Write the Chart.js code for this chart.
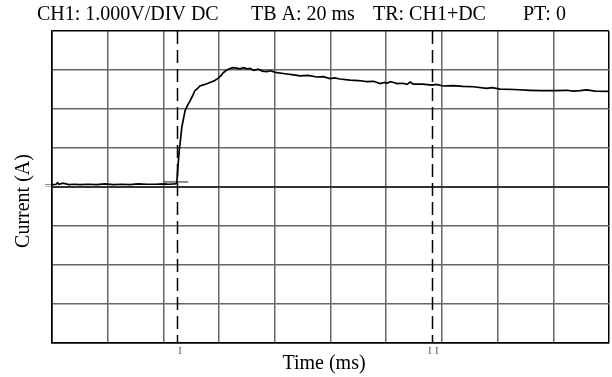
<!DOCTYPE html>
<html>
<head>
  <script src="https://cdn.jsdelivr.net/npm/chart.js"></script>
  <style>
    body { margin: 0; background: #fff; }
    #scope { display: block; }
  </style>
</head>
<body>
  <canvas id="scope" width="612" height="377"></canvas>
  <script>
    // trace (ms / divisions)
    const timeMs = [0, 1.5, 2, 2.5, 4, 6, 8, 10, 13, 16, 19, 22, 25, 28, 31, 34, 37, 40, 42, 44,
      44.8, 45.2, 45.7, 46.2, 46.6, 47.2, 47.8, 48.7, 49.6, 50.5,
      51.3, 52.2, 53.1, 54.9, 56.7, 58.2, 59.7, 60.6, 61.5, 62.4,
      63.3, 64.8, 66.3, 67.5, 68.7, 70, 71.1, 72.5, 74.1, 75.5, 77.1, 78.6, 80.1, 83.1, 86.1,
      89.1, 92, 95, 97.4, 99.8, 101.5, 103.4, 107, 110, 113, 115.5,
      117.8, 119.5, 120.2, 121.5, 122.6, 124, 126, 127.5, 128.6, 129.7, 133, 136.5, 138, 140.5, 144, 147.5,
      151.3, 156, 158, 160.9, 166, 171.6, 176, 180, 185, 187, 189.6, 192, 195, 200];
    const current = [0.06, 0.07, 0.11, 0.07, 0.1, 0.06, 0.07, 0.06, 0.07, 0.06, 0.08, 0.06, 0.07, 0.06, 0.08, 0.07, 0.07, 0.08, 0.07, 0.08,
      0.09, 0.5, 0.94, 1.25, 1.53, 1.75, 1.96, 2.1, 2.21, 2.34,
      2.47, 2.52, 2.59, 2.63, 2.68, 2.72, 2.79, 2.85, 2.93, 2.98,
      3.02, 3.06, 3.05, 3.03, 3.06, 3.03, 3.04, 2.99, 3.02, 2.97, 2.96, 2.98, 2.94, 2.91, 2.88,
      2.85, 2.86, 2.82, 2.83, 2.78, 2.8, 2.77, 2.74, 2.73, 2.7, 2.71,
      2.65, 2.68, 2.66, 2.7, 2.68, 2.65, 2.66, 2.63, 2.69, 2.64, 2.64, 2.61, 2.63, 2.59, 2.6, 2.58,
      2.57, 2.53, 2.55, 2.51, 2.5, 2.48, 2.47, 2.47, 2.48, 2.46, 2.47, 2.49, 2.46, 2.45];

    const cursorsMs = [44.9, 136.6];
    const cursorTicksMs = [46, 135.7, 138.2];
    const triggerLevel = 0.13;
    const triggerSpanMs = [40.2, 48.9];

    const headerParts = [
      ['CH1: 1.000V/DIV DC', 37],
      ['TB A: 20 ms', 251],
      ['TR: CH1+DC', 373],
      ['PT: 0', 523]
    ];

    const serif = '"Liberation Serif", "Times New Roman", serif';

    const scopeMarks = {
      id: 'scopeMarks',
      beforeDatasetsDraw(chart) {
        const { ctx, chartArea, scales: { x, y } } = chart;
        ctx.save();
        // cursors
        ctx.strokeStyle = '#000';
        ctx.lineWidth = 1.5;
        ctx.setLineDash([13, 6]);
        cursorsMs.forEach(t => {
          const px = Math.round(x.getPixelForValue(t)) + 0.5;
          ctx.beginPath();
          ctx.moveTo(px, chartArea.top);
          ctx.lineTo(px, chartArea.bottom);
          ctx.stroke();
        });
        ctx.setLineDash([]);
        // trigger level
        ctx.strokeStyle = '#444';
        ctx.lineWidth = 1.2;
        const ty = y.getPixelForValue(triggerLevel);
        ctx.beginPath();
        ctx.moveTo(x.getPixelForValue(triggerSpanMs[0]), ty);
        ctx.lineTo(x.getPixelForValue(triggerSpanMs[1]), ty);
        ctx.stroke();
        ctx.restore();
      },
      afterDraw(chart) {
        const { ctx, chartArea, scales: { x, y } } = chart;
        ctx.save();
        ctx.fillStyle = '#000';
        ctx.font = '20px ' + serif;
        ctx.textBaseline = 'alphabetic';
        ctx.textAlign = 'left';
        headerParts.forEach(([txt, px]) => ctx.fillText(txt, px, 20));

        ctx.textAlign = 'center';
        ctx.fillText('Time (ms)', 324, 369);

        ctx.save();
        ctx.translate(29, 201);
        ctx.rotate(-Math.PI / 2);
        ctx.fillText('Current (A)', 0, 0);
        ctx.restore();

        // small markers
        ctx.fillStyle = '#666';
        ctx.font = '11px ' + serif;
        cursorTicksMs.forEach(t => ctx.fillText('I', x.getPixelForValue(t), chartArea.bottom + 11));
        ctx.font = '12px ' + serif;
        ctx.fillText('=', 48, y.getPixelForValue(0) + 3);
        ctx.restore();
      }
    };

    const edge = (v, lo, hi, mid) => {
      if (v === lo || v === hi) return '#000';
      if (v === mid) return '#333';
      return '#666';
    };

    new Chart(document.getElementById('scope'), {
      type: 'line',
      data: {
        datasets: [{
          data: timeMs.map((t, i) => ({ x: t, y: current[i] })),
          borderColor: '#000',
          borderWidth: 1.7,
          pointRadius: 0,
          tension: 0
        }]
      },
      options: {
        responsive: false,
        animation: false,
        events: [],
        layout: { padding: { left: 52, right: 3, top: 31, bottom: 34 } },
        plugins: { legend: { display: false }, tooltip: { enabled: false } },
        scales: {
          x: {
            type: 'linear', min: 0, max: 200,
            ticks: { display: false, stepSize: 20 },
            grid: {
              drawTicks: false,
              color: c => edge(c.tick.value, 0, 200, -1),
              lineWidth: 1.5
            },
            border: { display: true, color: '#000', width: 1.5 },
            afterFit: s => { s.height = 0; }
          },
          y: {
            min: -4, max: 4,
            ticks: { display: false, stepSize: 1 },
            grid: {
              drawTicks: false,
              color: c => edge(c.tick.value, -4, 4, 0),
              lineWidth: c => c.tick.value === 0 ? 2 : 1.5
            },
            border: { display: true, color: '#000', width: 1.5 },
            afterFit: s => { s.width = 0; }
          }
        }
      },
      plugins: [scopeMarks]
    });
  </script>
</body>
</html>
